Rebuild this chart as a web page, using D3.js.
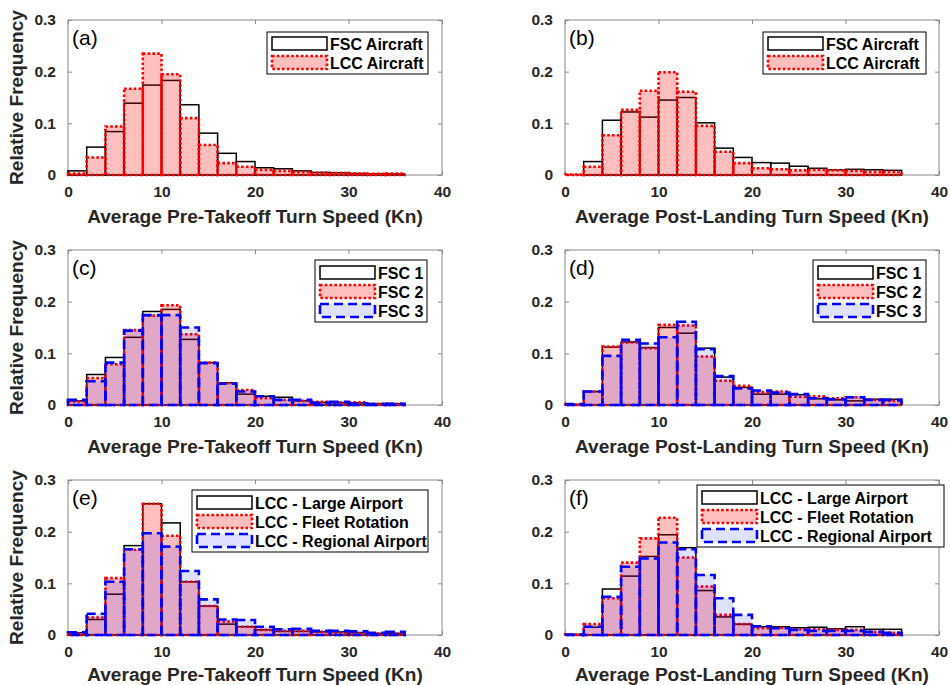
<!DOCTYPE html>
<html>
<head>
<meta charset="utf-8">
<script src="https://cdn.jsdelivr.net/npm/d3@7"></script>
<style>
  html, body { margin: 0; padding: 0; background: #fff; }
  svg { display: block; font-family: "Liberation Sans", Arial, Helvetica, sans-serif; }
</style>
</head>
<body>
<svg id="fig" width="950" height="685"></svg>
<script>
// ---- Histogram bins (left edges, knots) and axis ticks ----
const binEdges = [0, 2, 4, 6, 8, 10, 12, 14, 16, 18, 20, 22, 24, 26, 28, 30, 32, 34];
const binWidth = 2;
const xTicks = [0, 10, 20, 30, 40];
const yTicks = [0, 0.1, 0.2, 0.3];
const yTickLabels = ["0", "0.1", "0.2", "0.3"];

// ---- Relative frequencies per bin ----
// (a) pre-takeoff, FSC vs LCC
const preFSC = [0.008, 0.054, 0.084, 0.139, 0.174, 0.183, 0.136, 0.081, 0.042, 0.026, 0.014, 0.012, 0.008, 0.005, 0.0045, 0.003, 0.002, 0.002];
const preLCC = [0.003, 0.034, 0.094, 0.167, 0.235, 0.195, 0.110, 0.058, 0.023, 0.016, 0.010, 0.008, 0.006, 0.0045, 0.004, 0.003, 0.0025, 0.003];
// (b) post-landing, FSC vs LCC
const postFSC = [0.000, 0.026, 0.106, 0.122, 0.112, 0.145, 0.150, 0.101, 0.052, 0.034, 0.024, 0.023, 0.017, 0.013, 0.010, 0.011, 0.010, 0.009];
const postLCC = [0.001, 0.016, 0.077, 0.126, 0.163, 0.199, 0.161, 0.095, 0.045, 0.023, 0.013, 0.011, 0.009, 0.010, 0.009, 0.008, 0.006, 0.006];
// (c) pre-takeoff, FSC 1/2/3
const preFSC1 = [0.008, 0.059, 0.092, 0.131, 0.181, 0.185, 0.127, 0.082, 0.043, 0.021, 0.017, 0.015, 0.008, 0.005, 0.0045, 0.004, 0.0025, 0.0025];
const preFSC2 = [0.007, 0.052, 0.079, 0.145, 0.173, 0.193, 0.137, 0.082, 0.042, 0.029, 0.013, 0.010, 0.008, 0.006, 0.005, 0.005, 0.0025, 0.0025];
const preFSC3 = [0.010, 0.046, 0.082, 0.144, 0.174, 0.174, 0.150, 0.081, 0.041, 0.026, 0.017, 0.010, 0.010, 0.0045, 0.006, 0.003, 0.002, 0.0025];
// (d) post-landing, FSC 1/2/3
const postFSC1 = [0.001, 0.026, 0.112, 0.122, 0.111, 0.150, 0.139, 0.110, 0.054, 0.034, 0.021, 0.021, 0.020, 0.012, 0.010, 0.008, 0.011, 0.011];
const postFSC2 = [0.001, 0.026, 0.113, 0.121, 0.110, 0.155, 0.154, 0.094, 0.047, 0.037, 0.025, 0.026, 0.016, 0.017, 0.013, 0.015, 0.010, 0.008];
const postFSC3 = [0.002, 0.026, 0.095, 0.126, 0.119, 0.131, 0.161, 0.108, 0.056, 0.032, 0.028, 0.024, 0.021, 0.013, 0.011, 0.015, 0.010, 0.010];
// (e) pre-takeoff, LCC operating types
const preLarge = [0.0045, 0.030, 0.079, 0.173, 0.254, 0.217, 0.103, 0.056, 0.021, 0.016, 0.010, 0.007, 0.007, 0.006, 0.006, 0.0045, 0.003, 0.003];
const preFleet = [0.003, 0.034, 0.110, 0.165, 0.254, 0.192, 0.103, 0.056, 0.026, 0.016, 0.010, 0.008, 0.008, 0.006, 0.0045, 0.004, 0.003, 0.003];
const preRegional = [0.005, 0.041, 0.103, 0.166, 0.197, 0.171, 0.124, 0.069, 0.030, 0.029, 0.016, 0.011, 0.012, 0.008, 0.008, 0.007, 0.0045, 0.006];
// (f) post-landing, LCC operating types
const postLarge = [0.001, 0.015, 0.089, 0.114, 0.152, 0.194, 0.169, 0.086, 0.035, 0.021, 0.016, 0.016, 0.014, 0.015, 0.012, 0.016, 0.011, 0.011];
const postFleet = [0.001, 0.021, 0.071, 0.140, 0.187, 0.227, 0.150, 0.094, 0.039, 0.021, 0.013, 0.014, 0.011, 0.011, 0.010, 0.010, 0.006, 0.0045];
const postRegional = [0.001, 0.016, 0.074, 0.132, 0.148, 0.179, 0.166, 0.116, 0.071, 0.039, 0.017, 0.013, 0.010, 0.008, 0.008, 0.008, 0.006, 0.0045];

// ---- Series appearance ----
const styles = {
  black: { fill: "none", stroke: "#000000", width: 1.5, dash: null },
  red:   { fill: "rgba(255,0,0,0.25)", stroke: "#ff0000", width: 2.6, dash: "2.6 2.2" },
  blue:  { fill: "rgba(0,0,255,0.12)", stroke: "#0000ff", width: 2.6, dash: "9 5" }
};

// ---- Grid layout ----
const cols = [{ x0: 68, x1: 442 }, { x0: 565, x1: 939 }];
const rows = [{ top: 20, bottom: 175, titleY: 223 }, { top: 250, bottom: 405, titleY: 453 }, { top: 480, bottom: 635, titleY: 681 }];
const preTitle = "Average Pre-Takeoff Turn Speed (Kn)";
const postTitle = "Average Post-Landing Turn Speed (Kn)";

const panels = [
  { tag: "(a)", r: 0, c: 0, title: preTitle,
    series: [{ v: preFSC, s: "black", name: "FSC Aircraft" }, { v: preLCC, s: "red", name: "LCC Aircraft" }],
    legend: { x: 267, y: 32, w: 161 } },
  { tag: "(b)", r: 0, c: 1, title: postTitle,
    series: [{ v: postFSC, s: "black", name: "FSC Aircraft" }, { v: postLCC, s: "red", name: "LCC Aircraft" }],
    legend: { x: 763, y: 32, w: 163 } },
  { tag: "(c)", r: 1, c: 0, title: preTitle,
    series: [{ v: preFSC1, s: "black", name: "FSC 1" }, { v: preFSC2, s: "red", name: "FSC 2" }, { v: preFSC3, s: "blue", name: "FSC 3" }],
    legend: { x: 315, y: 260, w: 112 } },
  { tag: "(d)", r: 1, c: 1, title: postTitle,
    series: [{ v: postFSC1, s: "black", name: "FSC 1" }, { v: postFSC2, s: "red", name: "FSC 2" }, { v: postFSC3, s: "blue", name: "FSC 3" }],
    legend: { x: 813, y: 260, w: 113 } },
  { tag: "(e)", r: 2, c: 0, title: preTitle,
    series: [{ v: preLarge, s: "black", name: "LCC - Large Airport" }, { v: preFleet, s: "red", name: "LCC - Fleet Rotation" }, { v: preRegional, s: "blue", name: "LCC - Regional Airport" }],
    legend: { x: 192, y: 490, w: 236 } },
  { tag: "(f)", r: 2, c: 1, title: postTitle,
    series: [{ v: postLarge, s: "black", name: "LCC - Large Airport" }, { v: postFleet, s: "red", name: "LCC - Fleet Rotation" }, { v: postRegional, s: "blue", name: "LCC - Regional Airport" }],
    legend: { x: 697, y: 485, w: 247 } }
];

const svg = d3.select("#fig");
const axisGray = "#8a8a8a";
const textDark = "#262626";

function applyStyle(sel, st) {
  sel.attr("fill", st.fill)
     .attr("stroke", st.stroke)
     .attr("stroke-width", st.width)
     .attr("stroke-dasharray", st.dash);
}

panels.forEach(p => {
  const col = cols[p.c], row = rows[p.r];
  const x = d3.scaleLinear().domain([0, 40]).range([col.x0, col.x1]);
  const y = d3.scaleLinear().domain([0, 0.3]).range([row.bottom, row.top]);
  const g = svg.append("g");

  // axes box
  g.append("rect")
    .attr("x", col.x0).attr("y", row.top)
    .attr("width", col.x1 - col.x0).attr("height", row.bottom - row.top)
    .attr("fill", "none").attr("stroke", axisGray).attr("stroke-width", 1);

  // inward ticks on all four sides
  const tl = 4;
  const bottomAxis = d3.axisBottom(x).tickValues(xTicks).tickSize(-tl).tickFormat(d3.format("d")).tickPadding(10);
  const topAxis = d3.axisTop(x).tickValues(xTicks).tickSize(-tl).tickFormat("");
  const leftAxis = d3.axisLeft(y).tickValues(yTicks).tickSize(-tl).tickFormat((d, i) => yTickLabels[i]).tickPadding(12);
  const rightAxis = d3.axisRight(y).tickValues(yTicks).tickSize(-tl).tickFormat("");

  const gb = g.append("g").attr("transform", `translate(0,${row.bottom})`).call(bottomAxis);
  const gt = g.append("g").attr("transform", `translate(0,${row.top})`).call(topAxis);
  const gl = g.append("g").attr("transform", `translate(${col.x0},0)`).call(leftAxis);
  const gr = g.append("g").attr("transform", `translate(${col.x1},0)`).call(rightAxis);
  [gb, gt, gl, gr].forEach(a => {
    a.select(".domain").remove();
    a.selectAll(".tick line").attr("stroke", axisGray);
    a.selectAll(".tick text")
      .attr("fill", textDark)
      .attr("font-size", 15.5)
      .attr("font-weight", "bold")
      .attr("font-family", '"Liberation Sans", Arial, sans-serif');
  });
  gb.selectAll(".tick text").attr("dy", "0.75em");

  // histogram bars, one series over the next
  p.series.forEach(sr => {
    const st = styles[sr.s];
    g.append("g").selectAll("rect")
      .data(binEdges.map((e, i) => ({ e, v: sr.v[i] })))
      .join("rect")
      .attr("x", d => x(d.e))
      .attr("y", d => y(d.v))
      .attr("width", d => x(d.e + binWidth) - x(d.e))
      .attr("height", d => y(0) - y(d.v))
      .call(applyStyle, st);
  });

  // panel tag
  g.append("text")
    .attr("x", col.x0 + 4).attr("y", row.top + 24.5)
    .attr("font-size", 21).attr("fill", "#000")
    .text(p.tag);

  // x-axis title
  const xt = g.append("text")
    .attr("x", (col.x0 + col.x1) / 2).attr("y", row.titleY)
    .attr("text-anchor", "middle")
    .attr("font-size", 17.5).attr("font-weight", "bold").attr("fill", textDark)
    .text(p.title);
  const xl = xt.node().getComputedTextLength();
  xt.attr("textLength", xl * 1.09).attr("lengthAdjust", "spacingAndGlyphs");

  // y-axis title on the left column only
  if (p.c === 0) {
    const cy = (row.top + row.bottom) / 2;
    const yt = g.append("text")
      .attr("transform", `translate(23,${cy}) rotate(-90)`)
      .attr("text-anchor", "middle")
      .attr("font-size", 17.5).attr("font-weight", "bold").attr("fill", textDark)
      .text("Relative Frequency");
    const yl = yt.node().getComputedTextLength();
    yt.attr("textLength", yl * 1.09).attr("lengthAdjust", "spacingAndGlyphs");
  }

  // legend
  const L = p.legend;
  const n = p.series.length;
  const rowGap = 19;
  const first = n === 2 ? 11.5 : 12.5;
  const h = n === 2 ? 42 : 62;
  const lg = g.append("g");
  lg.append("rect")
    .attr("x", L.x).attr("y", L.y).attr("width", L.w).attr("height", h)
    .attr("fill", "#fff").attr("stroke", "#000").attr("stroke-width", 1);
  p.series.forEach((sr, i) => {
    const cy = L.y + first + i * rowGap;
    const st = styles[sr.s];
    lg.append("rect")
      .attr("x", L.x + 5).attr("y", cy - 6.5)
      .attr("width", 55).attr("height", 13)
      .call(applyStyle, st);
    lg.append("text")
      .attr("x", L.x + 63).attr("y", cy + 1)
      .attr("dominant-baseline", "central")
      .attr("font-size", 16).attr("font-weight", "bold").attr("fill", "#000")
      .text(sr.name);
  });
});
</script>
</body>
</html>
